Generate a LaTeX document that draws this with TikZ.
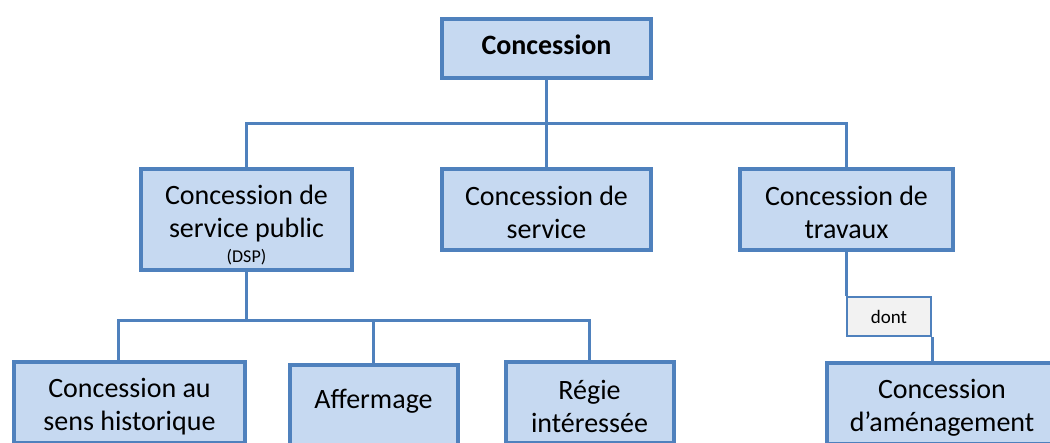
\documentclass[tikz,border=0pt]{standalone}
\usepackage{fontspec}
\setmainfont{Carlito}
\usepackage{xcolor}
\definecolor{cLine}{HTML}{4F81BD}
\definecolor{cFill}{HTML}{C6D9F1}
\definecolor{cNote}{HTML}{F2F2F2}
\usepackage{tikz}
\usetikzlibrary{positioning,calc}
\tikzset{
  node-box/.style={draw=cLine,line width=2pt,fill=cFill,
    minimum height=40.5pt,align=center,inner sep=2pt,
    font=\fontsize{14}{16.5}\selectfont},
  node-note/.style={draw=cLine,line width=1.2pt,fill=cNote,
    minimum width=41.8pt,minimum height=19.3pt,inner sep=1pt,
    font=\fontsize{9.5}{11}\selectfont},
  link/.style={draw=cLine,line width=1.5pt},
}
\begin{document}
\begin{tikzpicture}
  \useasboundingbox (0,0) rectangle (525pt,-221.5pt);
  % niveau 1
  \node[node-box,minimum width=104.5pt,minimum height=29.5pt,text depth=4pt] (top) at (273.25pt,-24.25pt) {\bfseries Concession};
  % niveau 2
  \node[node-box,minimum width=104.5pt,below=43.5pt of top] (serv) {\rule{0pt}{12.5pt}Concession de\\service};
  \node[node-box,minimum width=105.5pt,minimum height=50.5pt,inner sep=0pt,below left=43.5pt and 43pt of top] (dsp)
    {\rule{0pt}{14.5pt}Concession de\\service public\\[-4pt]\raisebox{0pt}[\height][0pt]{\fontsize{9}{10}\selectfont (DSP)}};
  \node[node-box,minimum width=106.5pt,below right=43.5pt and 42.5pt of top] (trav) {\rule{0pt}{12.5pt}Concession de\\travaux};
  % niveau 3
  \node[node-box,minimum width=115.5pt,below=44pt of dsp,xshift=-58.5pt] (hist) {\rule{0pt}{14pt}Concession au\\sens historique};
  \node[node-box,minimum width=84pt,text depth=7pt,below=45.5pt of dsp,xshift=63.5pt] (aff) {Affermage};
  \node[node-box,minimum width=84pt,below=44pt of dsp,xshift=171.5pt] (regie) {\rule{0pt}{14pt}Régie\\intéressée};
  \node[node-note,below=22pt of trav,xshift=21.25pt] (dont) {dont};
  \node[node-box,minimum width=115pt,below=54.5pt of trav,xshift=47.75pt] (amen) {\rule{0pt}{14pt}Concession\\d’aménagement};
  % liaisons
  \draw[link] (top) -- (serv);
  \draw[link] (dsp.north) |- ($(top.south)!.5!(serv.north)$) -| (trav.north);
  \coordinate (bus) at ([yshift=-24.5pt]dsp.south);
  \draw[link] (dsp) -- (bus);
  \draw[link] ([xshift=-5.75pt]hist.north) |- (bus) -| (regie.north);
  \draw[link] (aff) -- (aff |- bus);
  \draw[link] (trav.south) -- (trav.south |- dont.north);
  \draw[link] (dont.south east) -- (dont.south east |- amen.north);
\end{tikzpicture}
\end{document}
